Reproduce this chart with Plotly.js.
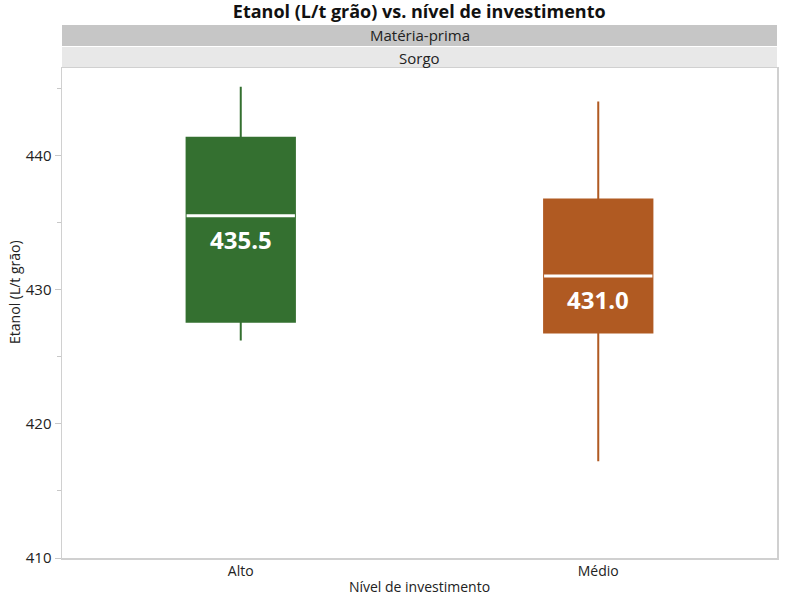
<!DOCTYPE html>
<html>
<head>
<meta charset="utf-8">
<script src="https://cdn.plot.ly/plotly-3.0.1.min.js"></script>
<style>html,body{margin:0;padding:0;background:#fff;}</style>
</head>
<body>
<div id="chart" style="width:794px;height:605px;"></div>
<script>
const categories = ["Alto", "Médio"];
const lowerWhisker = [426.2, 417.2];
const q1 = [427.6, 426.8];
const median = [435.5, 431.0];
const q3 = [441.3, 436.7];
const upperWhisker = [445.1, 444.0];
const colors = ["#347030", "#b05a22"];
const yTickVals = [410, 420, 430, 440];
const facetOuter = "Matéria-prima";
const facetInner = "Sorgo";
const yTitle = "Etanol (L/t grão)";
const xTitle = "Nível de investimento";

const FONT = "'Open Sans', 'Noto Sans', sans-serif";
const traces = [];
categories.forEach((c, i) => {
  traces.push({
    type: "box",
    x: [c],
    q1: [q1[i]], median: [median[i]], q3: [q3[i]],
    lowerfence: [lowerWhisker[i]], upperfence: [upperWhisker[i]],
    fillcolor: colors[i],
    line: {color: colors[i], width: 2},
    width: 0.303,
    whiskerwidth: 0,
    boxpoints: false,
    hoverinfo: "skip",
    showlegend: false
  });
  traces.push({
    type: "box",
    x: [c],
    q1: [median[i]], median: [median[i]], q3: [median[i]],
    lowerfence: [median[i]], upperfence: [median[i]],
    fillcolor: "rgba(0,0,0,0)",
    line: {color: "#ffffff", width: 3},
    width: 0.303,
    whiskerwidth: 0,
    boxpoints: false,
    hoverinfo: "skip",
    showlegend: false
  });
});

const annotations = categories.map((c, i) => ({
  x: c, y: median[i], xref: "x", yref: "y",
  text: "<b>" + median[i].toFixed(1) + "</b>",
  showarrow: false, yanchor: "top", yshift: -5,
  font: {family: FONT, size: 24, color: "#ffffff"}
}));
annotations.push({
  x: 0.5, xref: "paper", y: 1, yref: "paper", yanchor: "middle", yshift: 10.5,
  text: facetInner, showarrow: false, font: {family: FONT, size: 15, color: "#222"}
});
annotations.push({
  x: 0.5, xref: "paper", y: 1, yref: "paper", yanchor: "middle", yshift: 33,
  text: facetOuter, showarrow: false, font: {family: FONT, size: 15, color: "#222"}
});
annotations.push({
  x: 0, xref: "paper", xanchor: "center", xshift: -47,
  y: 0.543, yref: "paper", yanchor: "middle",
  text: yTitle, textangle: -90, showarrow: false,
  font: {family: FONT, size: 14, color: "#222"}
});

const shapes = [
  {type: "rect", xref: "paper", yref: "paper", x0: 0, x1: 1, ysizemode: "pixel", yanchor: 1, y0: 0, y1: 21,
   fillcolor: "#e8e8e8", line: {width: 0}, layer: "below"},
  {type: "rect", xref: "paper", yref: "paper", x0: 0, x1: 1, ysizemode: "pixel", yanchor: 1, y0: 22, y1: 43,
   fillcolor: "#c6c6c6", line: {width: 0}, layer: "below"}
];

const layout = {
  width: 794, height: 605,
  margin: {l: 62, r: 17, t: 68, b: 47},
  paper_bgcolor: "#fff", plot_bgcolor: "#fff",
  font: {family: FONT, size: 14, color: "#222"},
  title: {text: "<b>Etanol (L/t grão) vs. nível de investimento</b>", x: 0.528, xanchor: "center", y: 0.98, yanchor: "middle",
          font: {family: FONT, size: 18, color: "#111"}},
  xaxis: {
    type: "category", categoryarray: categories, range: [-0.5, 1.5],
    showline: true, linecolor: "#d0d0d0", linewidth: 1.5, mirror: true,
    showgrid: false, zeroline: false, ticks: "",
    tickfont: {family: FONT, size: 14, color: "#222"},
    title: {text: xTitle, standoff: 3, font: {family: FONT, size: 14, color: "#222"}}
  },
  yaxis: {
    range: [410, 446.5], tickvals: yTickVals,
    showline: true, linecolor: "#d0d0d0", linewidth: 1.5, mirror: true,
    showgrid: false, zeroline: false,
    ticks: "outside", ticklen: 6, tickcolor: "#c8c8c8",
    minor: {dtick: 5, tick0: 410, ticks: "outside", ticklen: 4, tickcolor: "#c8c8c8", showgrid: false},
    tickfont: {family: FONT, size: 15, color: "#222"}
  },
  shapes: shapes,
  annotations: annotations
};

Plotly.newPlot("chart", traces, layout, {displayModeBar: false, staticPlot: true});
</script>
</body>
</html>
